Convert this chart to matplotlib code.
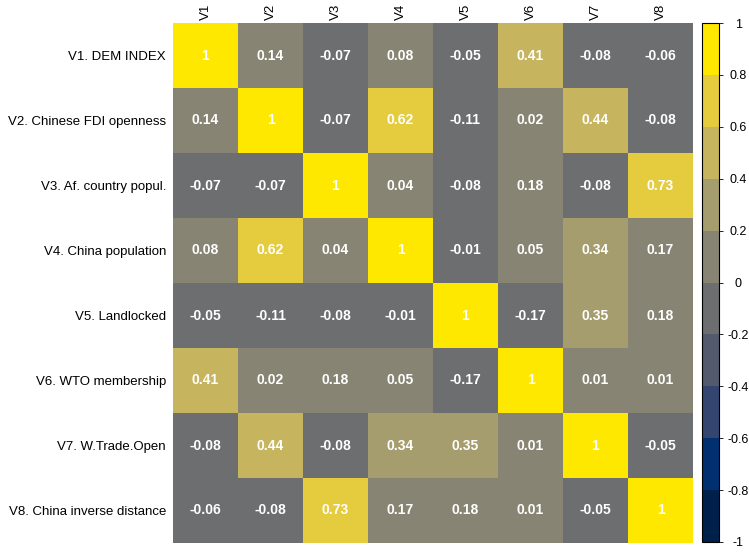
import matplotlib.pyplot as plt
import numpy as np
from matplotlib.colors import ListedColormap, BoundaryNorm

plt.rcParams['font.family'] = ['Liberation Sans', 'DejaVu Sans']

row_labels = ['V1. DEM INDEX', 'V2. Chinese FDI openness', 'V3. Af. country popul.',
              'V4. China population', 'V5. Landlocked', 'V6. WTO membership',
              'V7. W.Trade.Open', 'V8. China inverse distance']
col_labels = ['V1', 'V2', 'V3', 'V4', 'V5', 'V6', 'V7', 'V8']

corr = np.array([
    [1, 0.14, -0.07, 0.08, -0.05, 0.41, -0.08, -0.06],
    [0.14, 1, -0.07, 0.62, -0.11, 0.02, 0.44, -0.08],
    [-0.07, -0.07, 1, 0.04, -0.08, 0.18, -0.08, 0.73],
    [0.08, 0.62, 0.04, 1, -0.01, 0.05, 0.34, 0.17],
    [-0.05, -0.11, -0.08, -0.01, 1, -0.17, 0.35, 0.18],
    [0.41, 0.02, 0.18, 0.05, -0.17, 1, 0.01, 0.01],
    [-0.08, 0.44, -0.08, 0.34, 0.35, 0.01, 1, -0.05],
    [-0.06, -0.08, 0.73, 0.17, 0.18, 0.01, -0.05, 1],
])

bin_colors = ['#00204c', '#003070', '#344670', '#535a6d', '#6d6e70',
              '#888474', '#a69d6e', '#c6b45e', '#e5cc3f', '#ffe800']
bounds = np.linspace(-1, 1, 11)
cmap = ListedColormap(bin_colors)
norm = BoundaryNorm(bounds, cmap.N)

fig = plt.figure(figsize=(7.49, 5.52), dpi=100)
ax = fig.add_axes([173 / 749, 1 - 543 / 552, 520 / 749, 520 / 552])
cax = fig.add_axes([702 / 749, 1 - 542 / 552, 17 / 749, 519 / 552])

mesh = ax.pcolormesh(corr, cmap=cmap, norm=norm)
ax.set_xlim(0, 8)
ax.set_ylim(8, 0)
for i in range(8):
    for j in range(8):
        v = corr[i, j]
        txt = '1' if v == 1 else f'{v:.2f}'
        ax.text(j + 0.5, i + 0.5, txt, ha='center', va='center',
                color='white', fontsize=10, fontweight='bold')

ax.set_xticks(np.arange(8) + 0.5)
ax.set_xticklabels(col_labels, rotation=90, fontsize=9.5)
ax.xaxis.tick_top()
ax.set_yticks(np.arange(8) + 0.5)
ax.set_yticklabels(row_labels, fontsize=9.5)
ax.tick_params(axis='y', length=0, pad=5)
ax.tick_params(axis='x', length=0, pad=2)
for s in ax.spines.values():
    s.set_visible(False)

cb = fig.colorbar(mesh, cax=cax, ticks=np.linspace(-1, 1, 11))
cb.ax.set_yticklabels(['-1', '-0.8', '-0.6', '-0.4', '-0.2', '0', '0.2', '0.4', '0.6', '0.8', '1'])
cb.ax.tick_params(length=3, width=0.6, labelsize=9, pad=11)
for lbl in cb.ax.get_yticklabels():
    lbl.set_horizontalalignment('center')
cb.outline.set_linewidth(0.8)

fig.savefig('out.png', dpi=100)
